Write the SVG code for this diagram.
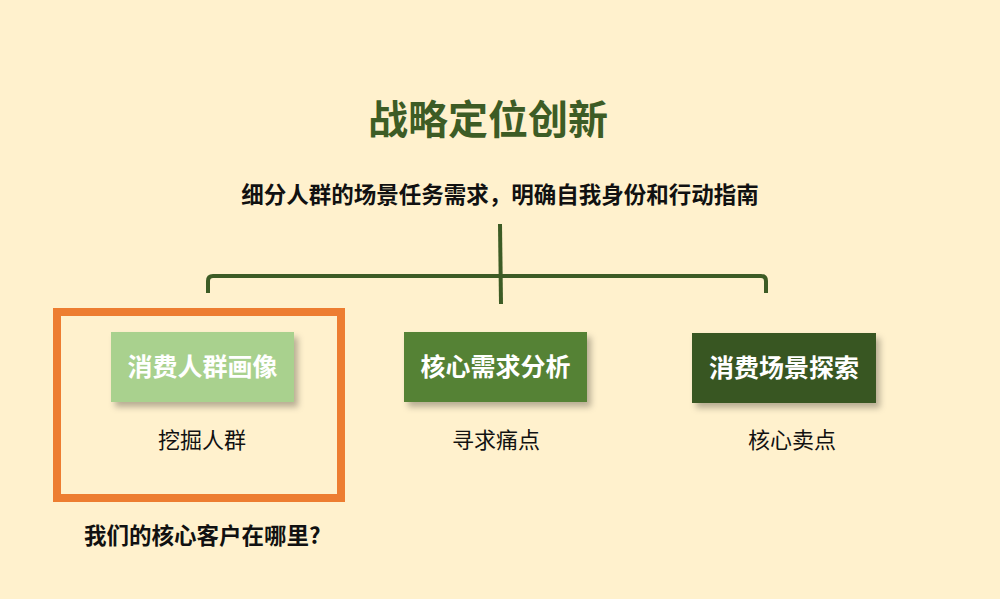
<svg xmlns="http://www.w3.org/2000/svg" width="1000" height="599" viewBox="0 0 1000 599">
<style>
text{font-family:"Microsoft YaHei","Noto Sans CJK SC",sans-serif}
.title{font-size:40px;font-weight:bold;fill:#3D5C25}
.sub{font-size:22.5px;font-weight:bold;fill:#111}
.box-t{font-size:25px;font-weight:bold;fill:#fff}
.desc{font-size:22px;fill:#111}
.conn{fill:none;stroke:#3D5C25;stroke-width:4;stroke-linecap:butt}
</style>
<defs>
<filter id="sh" x="-20%" y="-30%" width="150%" height="180%">
<feGaussianBlur in="SourceAlpha" stdDeviation="3"/>
<feOffset dx="4" dy="5" result="b"/>
<feFlood flood-color="#000" flood-opacity="0.28"/>
<feComposite in2="b" operator="in"/>
<feMerge><feMergeNode/><feMergeNode in="SourceGraphic"/></feMerge>
</filter>
</defs>
<rect width="1000" height="599" fill="#FFF1CD"/>
<g id="title"><text class="title" x="488" y="134" text-anchor="middle">战略定位创新</text></g>
<g id="subtitle"><text class="sub" x="500" y="203" text-anchor="middle">细分人群的场景任务需求，明确自我身份和行动指南</text></g>
<g id="connectors">
<path class="conn" d="M500 224 L501 304"/>
<path class="conn" d="M208 293 L208 281 Q208 276 213 276 L761 276 Q766 276 766 281 L766 293"/>
</g>
<g id="highlight"><rect x="57" y="312" width="284" height="186" fill="none" stroke="#ED7D31" stroke-width="8"/></g>
<g id="node1">
<rect x="111" y="332" width="183" height="70" fill="#A9D18E" filter="url(#sh)"/>
<text class="box-t" x="202.500" y="376" text-anchor="middle">消费人群画像</text>
<text class="desc" x="202" y="448" text-anchor="middle">挖掘人群</text>
</g>
<g id="node2">
<rect x="404" y="332" width="183" height="70" fill="#548235" filter="url(#sh)"/>
<text class="box-t" x="495.500" y="376" text-anchor="middle">核心需求分析</text>
<text class="desc" x="496" y="448" text-anchor="middle">寻求痛点</text>
</g>
<g id="node3">
<rect x="692" y="333" width="184" height="70" fill="#385723" filter="url(#sh)"/>
<text class="box-t" x="784" y="377" text-anchor="middle">消费场景探索</text>
<text class="desc" x="792" y="448" text-anchor="middle">核心卖点</text>
</g>
<g id="question"><text class="sub" x="84" y="544">我们的核心客户在哪里?</text></g>
</svg>
